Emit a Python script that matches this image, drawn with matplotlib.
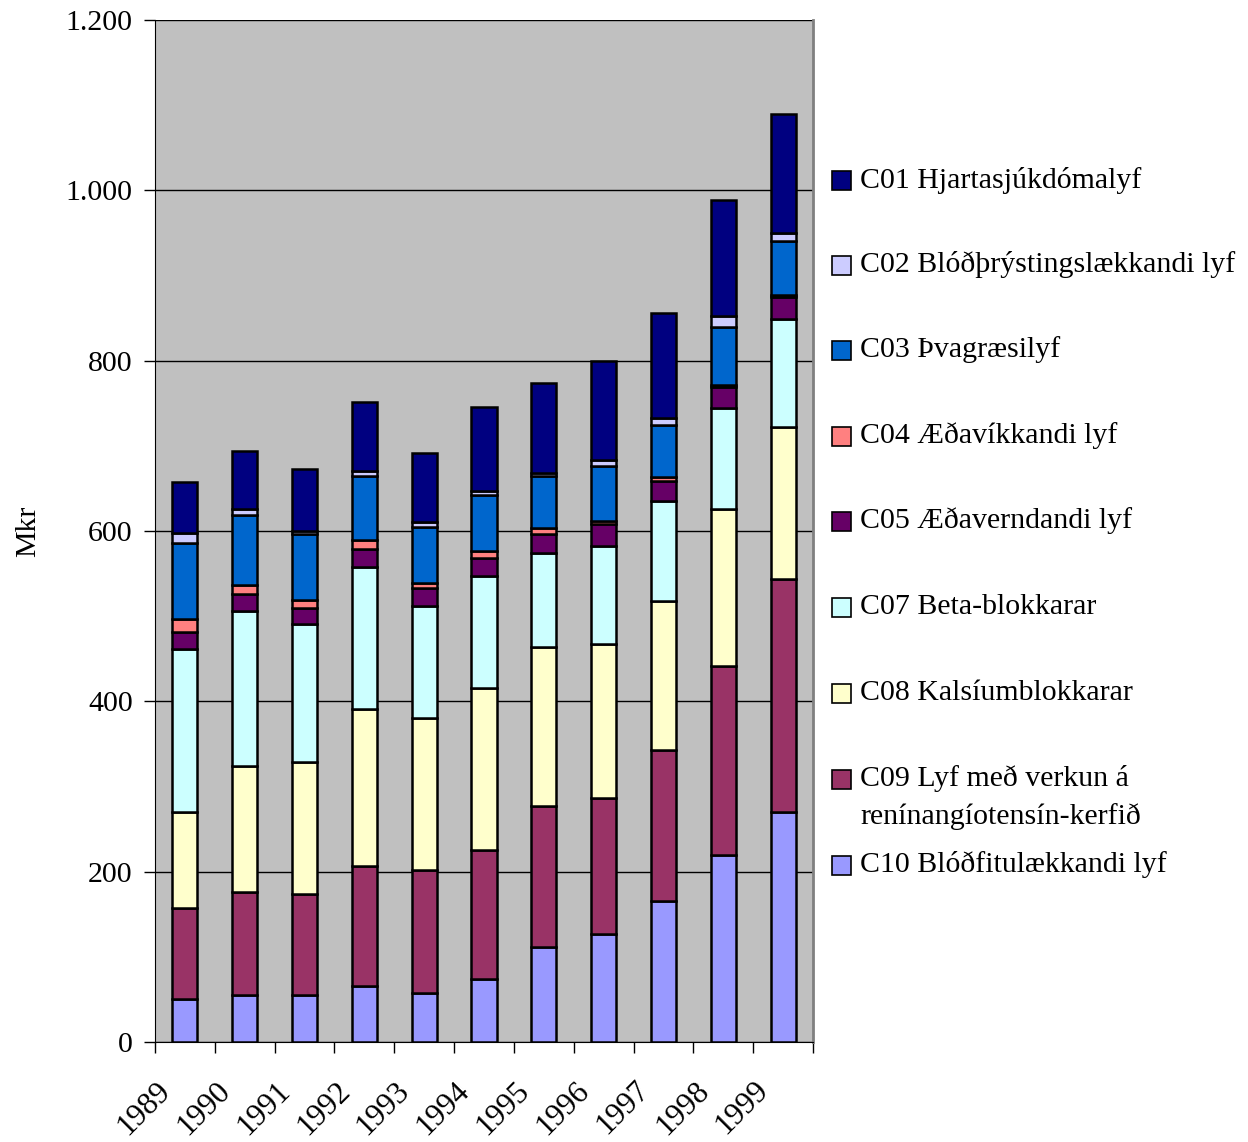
import numpy as np
import matplotlib.pyplot as plt
import matplotlib.transforms as mtransforms
from matplotlib.patches import Rectangle

plt.rcParams['font.family'] = ['Liberation Serif', 'DejaVu Serif']

years = ["1989", "1990", "1991", "1992", "1993", "1994",
         "1995", "1996", "1997", "1998", "1999"]

# values in Mkr, stacked from bottom (C10) to top (C01)
c10 = [50, 55, 55, 66, 57, 74, 111, 127, 165, 219, 270]
c09 = [107, 121, 119, 141, 145, 152, 166, 160, 178, 222, 274]
c08 = [113, 148, 155, 184, 178, 190, 187, 180, 175, 185, 178]
c07 = [191, 182, 162, 167, 132, 131, 110, 115, 117, 119, 127]
c05 = [20, 20, 19, 21, 21, 21, 23, 26, 24, 24, 26]
c04 = [16, 11, 9, 11, 6, 9, 7, 4, 4, 2, 2]
c03 = [89, 82, 77, 75, 66, 65, 60, 64, 61, 68, 63]
c02 = [12, 7, 4, 5, 5, 5, 4, 7, 9, 14, 10]
c01 = [60, 68, 73, 81, 82, 99, 106, 117, 123, 136, 140]

series = [
    ("C10 Blóðfitulækkandi lyf", c10, "#9999FF"),
    ("C09 Lyf með verkun á\nrenínangíotensín-kerfið", c09, "#993366"),
    ("C08 Kalsíumblokkarar", c08, "#FFFFCC"),
    ("C07 Beta-blokkarar", c07, "#CCFFFF"),
    ("C05 Æðaverndandi lyf", c05, "#660066"),
    ("C04 Æðavíkkandi lyf", c04, "#FF8080"),
    ("C03 Þvagræsilyf", c03, "#0066CC"),
    ("C02 Blóðþrýstingslækkandi lyf", c02, "#CCCCFF"),
    ("C01 Hjartasjúkdómalyf", c01, "#000080"),
]

FS = 21.5

fig = plt.figure(figsize=(12.48, 11.42), dpi=100)
ax = fig.add_axes([155 / 1248, 1 - 1042 / 1142, 658 / 1248, 1022 / 1142])
ax.set_facecolor("#C0C0C0")

x = np.arange(len(years))
bottom = np.zeros(len(years))
for name, vals, col in series:
    ax.bar(x, vals, width=0.42, bottom=bottom, color=col,
           edgecolor="black", linewidth=1.8, zorder=3)
    bottom += np.array(vals)

ax.set_xlim(-0.5, len(years) - 0.5)
ax.set_ylim(0, 1200)
ax.set_yticks(range(0, 1201, 200))
ax.set_yticklabels(["0", "200", "400", "600", "800", "1.000", "1.200"],
                   fontsize=FS)
ax.yaxis.grid(True, color="black", linewidth=1, zorder=0)
ax.set_axisbelow(True)

# tick marks between categories, year labels drawn as text under bars
ax.set_xticks(np.arange(-0.5, len(years), 1))
ax.set_xticklabels([])
ax.tick_params(axis="x", length=8, width=1, direction="out")
ax.tick_params(axis="y", length=8, width=1, direction="out", pad=8)
lab_tr = ax.get_xaxis_transform() + mtransforms.ScaledTranslation(
    -0.29, -0.34, fig.dpi_scale_trans)
for xi, yr in zip(x, years):
    ax.text(xi, 0, yr, transform=lab_tr, rotation=45, ha="right", va="top",
            rotation_mode="anchor", fontsize=FS + 1, clip_on=False)

ax.spines["left"].set_color("black")
ax.spines["bottom"].set_color("black")
ax.spines["top"].set_visible(False)
ax.spines["right"].set_color("#808080")
ax.spines["right"].set_linewidth(2)

ax.set_ylabel("Mkr", fontsize=FS, labelpad=18)

# legend on the right, top entry first
leg_y = [180, 265, 350, 436, 521, 607, 693, 779, 865]
for (name, vals, col), yy in zip(series[::-1], leg_y):
    fig.patches.append(Rectangle((832 / 1248, 1 - (yy + 10) / 1142),
                                 19 / 1248, 19 / 1142, transform=fig.transFigure,
                                 facecolor=col, edgecolor="black", linewidth=1.2))
    lines = name.split("\n")
    for i, ln in enumerate(lines):
        fig.text(860 / 1248, 1 - (yy + i * 38) / 1142, ln, fontsize=FS,
                 va="center", ha="left")

fig.savefig("out.png", dpi=100)
